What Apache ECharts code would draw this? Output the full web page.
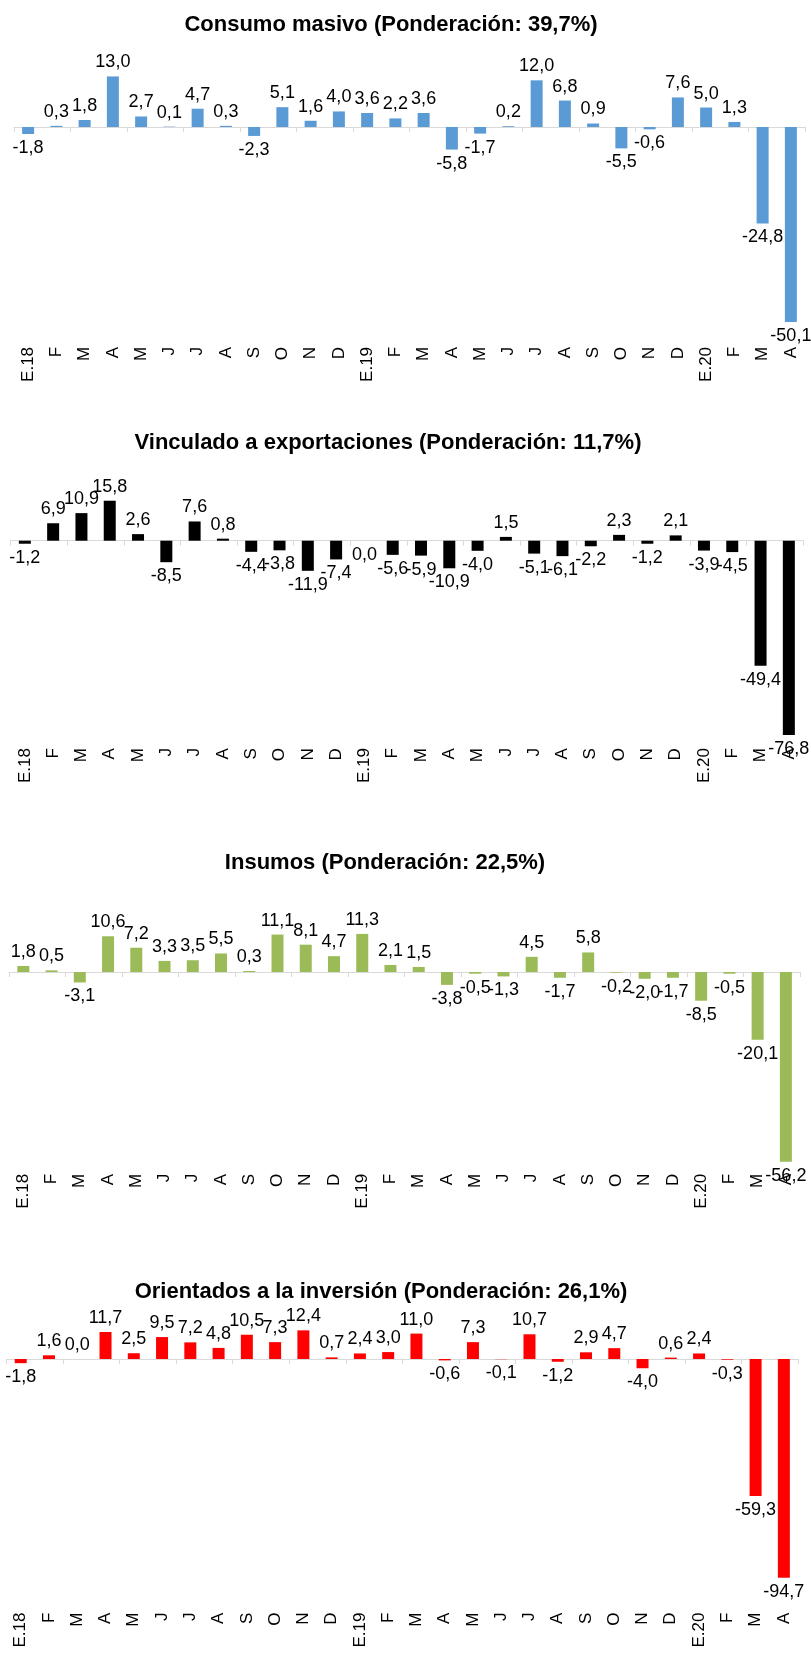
<!DOCTYPE html>
<html>
<head>
<meta charset="utf-8">
<script src="https://cdn.jsdelivr.net/npm/echarts@6/dist/echarts.min.js"></script>
<style>
html,body{margin:0;padding:0;background:#fff;}
#c{width:811px;height:1653px;}
</style>
</head>
<body>
<div id="c"></div>
<script>
const categories = ['E.18','F','M','A','M','J','J','A','S','O','N','D','E.19','F','M','A','M','J','J','A','S','O','N','D','E.20','F','M','A'];

const titles = [
  'Consumo masivo (Ponderación: 39,7%)',
  'Vinculado a exportaciones (Ponderación: 11,7%)',
  'Insumos (Ponderación: 22,5%)',
  'Orientados a la inversión (Ponderación: 26,1%)'
];

const consumoMasivo = [-1.8, 0.3, 1.8, 13.0, 2.7, 0.1, 4.7, 0.3, -2.3, 5.1, 1.6, 4.0, 3.6, 2.2, 3.6, -5.8, -1.7, 0.2, 12.0, 6.8, 0.9, -5.5, -0.6, 7.6, 5.0, 1.3, -24.8, -50.1];
const vinculadoExportaciones = [-1.2, 6.9, 10.9, 15.8, 2.6, -8.5, 7.6, 0.8, -4.4, -3.8, -11.9, -7.4, -0.0, -5.6, -5.9, -10.9, -4.0, 1.5, -5.1, -6.1, -2.2, 2.3, -1.2, 2.1, -3.9, -4.5, -49.4, -76.8];
const insumos = [1.8, 0.5, -3.1, 10.6, 7.2, 3.3, 3.5, 5.5, 0.3, 11.1, 8.1, 4.7, 11.3, 2.1, 1.5, -3.8, -0.5, -1.3, 4.5, -1.7, 5.8, -0.2, -2.0, -1.7, -8.5, -0.5, -20.1, -56.2];
const orientadosInversion = [-1.8, 1.6, 0.0, 11.7, 2.5, 9.5, 7.2, 4.8, 10.5, 7.3, 12.4, 0.7, 2.4, 3.0, 11.0, -0.6, 7.3, -0.1, 10.7, -1.2, 2.9, 4.7, -4.0, 0.6, 2.4, -0.3, -59.3, -94.7];

const seriesValues = [consumoMasivo, vinculadoExportaciones, insumos, orientadosInversion];
const barColors = ['#5b9bd5', '#000000', '#9bbb59', '#ff0000'];

const panels = [
  {titleX: 391, titleY: 25,   left: 14,  right: 6,  top: 68.65,  height: 272.3, min: -55,  max: 15, labelMargin: 6},
  {titleX: 388, titleY: 443,  left: 10.7, right: 8, top: 490.1,  height: 253.0, min: -80,  max: 20, labelMargin: 5},
  {titleX: 385, titleY: 863,  left: 9.2, right: 11, top: 921.4,  height: 246.4, min: -58,  max: 15, labelMargin: 6},
  {titleX: 381, titleY: 1292, left: 6.6, right: 13, top: 1324.35, height: 277.2, min: -105, max: 15, labelMargin: 11}
];

const FONT = 'Liberation Sans';
const fmt = v => (Math.abs(v) < 0.05 ? 0 : v).toFixed(1).replace('.', ',');
const isNeg = v => v < 0 || Object.is(v, -0);

const grid = [], xAxis = [], yAxis = [], series = [], graphic = [];

panels.forEach((p, i) => {
  grid.push({left: p.left, right: p.right, top: p.top, height: p.height, containLabel: false, outerBoundsMode: 'none'});
  // labels axis at bottom of plot
  xAxis.push({
    type: 'category', gridIndex: i, data: categories, position: 'bottom',
    axisLine: {show: false, onZero: false}, axisTick: {show: false},
    axisLabel: {interval: 0, rotate: 90, margin: p.labelMargin, fontSize: 17, fontFamily: FONT, color: '#000'}
  });
  // zero line axis with ticks
  xAxis.push({
    type: 'category', gridIndex: i, data: categories, position: 'bottom',
    axisLine: {show: true, onZero: true, lineStyle: {color: '#d9d9d9', width: 1}},
    axisTick: {show: true, length: 5, lineStyle: {color: '#d9d9d9'}},
    axisLabel: {show: false}, splitLine: {show: false}, z: 1
  });
  yAxis.push({type: 'value', gridIndex: i, min: p.min, max: p.max, show: false, splitLine: {show: false}});
  series.push({
    type: 'bar', xAxisIndex: 2 * i, yAxisIndex: i, barWidth: 12, z: 3,
    itemStyle: {color: barColors[i]},
    label: {show: true, fontSize: 18, fontFamily: FONT, color: '#000', distance: 5,
      formatter: prm => fmt(prm.value)},
    data: seriesValues[i].map(v => ({value: v, label: {position: isNeg(v) ? 'bottom' : 'top'}}))
  });
  graphic.push({
    type: 'text', x: p.titleX, y: p.titleY,
    style: {text: titles[i], fill: '#000', font: 'bold 22px "' + FONT + '"',
      fontSize: 22, fontWeight: 'bold', fontFamily: FONT,
      align: 'center', verticalAlign: 'middle', textAlign: 'center', textVerticalAlign: 'middle'}
  });
});

const chart = echarts.init(document.getElementById('c'), null, {renderer: 'canvas'});
chart.setOption({
  animation: false,
  backgroundColor: '#ffffff',
  grid, xAxis, yAxis, series, graphic
});
</script>
</body>
</html>
